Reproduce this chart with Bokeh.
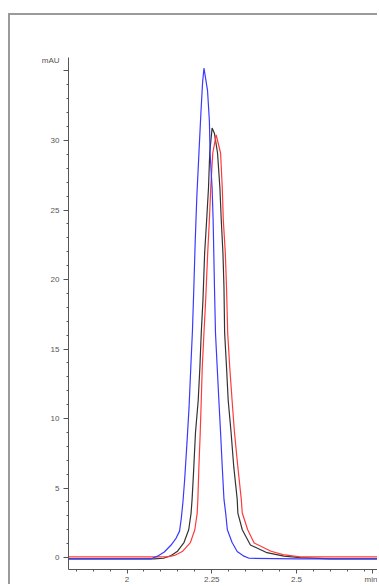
from bokeh.plotting import figure
from bokeh.models import Range1d, FixedTicker
from bokeh.embed import file_html
from bokeh.resources import INLINE

# ---- data ----
blue_t = [1.80, 2.00, 2.07, 2.09, 2.11, 2.13, 2.145, 2.155, 2.16, 2.165, 2.17, 2.177, 2.183, 2.188,
          2.193, 2.197, 2.201, 2.206, 2.212, 2.218, 2.223, 2.227, 2.2375, 2.243, 2.245, 2.251, 2.254,
          2.256, 2.258, 2.261, 2.266, 2.271, 2.276, 2.281, 2.286, 2.291, 2.296, 2.310, 2.325, 2.345,
          2.36, 2.50, 2.80]
blue_v = [-0.1, -0.1, -0.1, 0.1, 0.4, 0.9, 1.4, 1.9, 2.8, 4.0, 5.6, 8.3, 10.8, 13.6,
          16.3, 19.3, 22.6, 26.0, 29.0, 32.0, 34.2, 35.2, 33.6, 31.4, 29.1, 26.6, 24.3,
          21.9, 19.45, 16.15, 13.7, 11.3, 9.0, 6.5, 4.2, 3.2, 2.0, 1.08, 0.43, 0.1,
          -0.05, -0.1, -0.1]

black_t = [1.80, 2.08, 2.108, 2.13, 2.148, 2.168, 2.182, 2.189, 2.192, 2.196, 2.202, 2.210, 2.215,
           2.219, 2.224, 2.229, 2.235, 2.2404, 2.244, 2.251, 2.258, 2.267, 2.274, 2.278, 2.283,
           2.286, 2.288, 2.2935, 2.2985, 2.307, 2.315, 2.325, 2.327, 2.34, 2.364, 2.413, 2.4625,
           2.512, 2.6, 2.80]
black_v = [-0.1, -0.1, -0.05, 0.15, 0.43, 1.08, 2.0, 3.2, 4.2, 6.0, 9.0, 11.3, 13.7,
           16.15, 18.5, 21.9, 24.3, 26.6, 29.1, 30.9, 30.5, 29.1, 26.6, 24.3, 21.9,
           19.45, 16.15, 13.7, 11.3, 9.0, 6.5, 4.2, 3.2, 2.0, 0.9, 0.35, 0.1,
           0.0, -0.1, -0.1]

red_t = [1.80, 2.10, 2.119, 2.14, 2.163, 2.187, 2.2, 2.207, 2.209, 2.212, 2.216, 2.219, 2.222,
         2.227, 2.232, 2.238, 2.243, 2.247, 2.253, 2.263, 2.276, 2.281, 2.284, 2.29, 2.2935,
         2.297, 2.303, 2.31, 2.317, 2.327, 2.337, 2.34, 2.356, 2.375, 2.425, 2.46, 2.51, 2.6, 2.80]
red_v = [0.05, 0.05, 0.05, 0.15, 0.43, 1.08, 2.0, 3.2, 4.2, 6.5, 9.0, 11.3, 13.7,
         16.15, 18.5, 21.9, 24.3, 26.6, 29.1, 30.4, 29.1, 26.6, 24.3, 21.9, 19.45,
         16.15, 13.7, 11.3, 9.0, 6.5, 4.2, 3.2, 2.0, 1.05, 0.45, 0.21, 0.05, 0.05, 0.05]

x_major = [2.0, 2.25, 2.5, 2.725]
x_labels = {2.0: "2", 2.25: "2.25", 2.5: "2.5", 2.725: "min"}
x_minor = [1.85, 1.9, 1.95, 2.0, 2.05, 2.1, 2.15, 2.2, 2.25, 2.3, 2.35, 2.4, 2.45, 2.5,
           2.55, 2.6, 2.65, 2.7]
y_major = [0, 5, 10, 15, 20, 25, 30, 35]
y_labels = {35: "mAU\n\n"}
y_minor = list(range(0, 36))

W, H = 369, 571
p = figure(width=W, height=H, output_backend="svg", toolbar_location=None,
           x_range=Range1d(1.8274, 2.7448), y_range=Range1d(-0.86, 35.97),
           min_border_left=58, min_border_top=42, min_border_right=0, min_border_bottom=16)
p.margin = (13, 0, 0, 8)
p.styles = {"border-left": "2px solid #9a9a9a", "border-top": "2px solid #9a9a9a"}
p.outline_line_color = None
p.grid.visible = False
p.background_fill_color = "white"
p.border_fill_color = "white"

for t, v, c in [(black_t, black_v, "#333333"), (red_t, red_v, "#ff3a3a"), (blue_t, blue_v, "#3a3aff")]:
    p.line(t, v, line_color=c, line_width=1.2)

axc = "#555555"
for ax in (p.xaxis[0], p.yaxis[0]):
    ax.axis_line_color = axc
    ax.major_tick_line_color = axc
    ax.minor_tick_line_color = axc
    ax.major_tick_in = 0
    ax.minor_tick_in = 0
    ax.minor_tick_out = 2
    ax.major_label_text_font = "Liberation Sans"
    ax.major_label_text_font_size = "8px"
    ax.major_label_text_color = "#555555"

p.xaxis.ticker = FixedTicker(ticks=x_major, minor_ticks=x_minor)
p.xaxis.major_label_overrides = x_labels
p.xaxis.major_tick_out = 4
p.xaxis.major_label_standoff = 1

p.yaxis.ticker = FixedTicker(ticks=y_major, minor_ticks=y_minor)
p.yaxis.major_label_overrides = y_labels
p.yaxis.major_tick_out = 5
p.yaxis.major_label_standoff = 4

open("out.html", "w").write(file_html(p, INLINE))
